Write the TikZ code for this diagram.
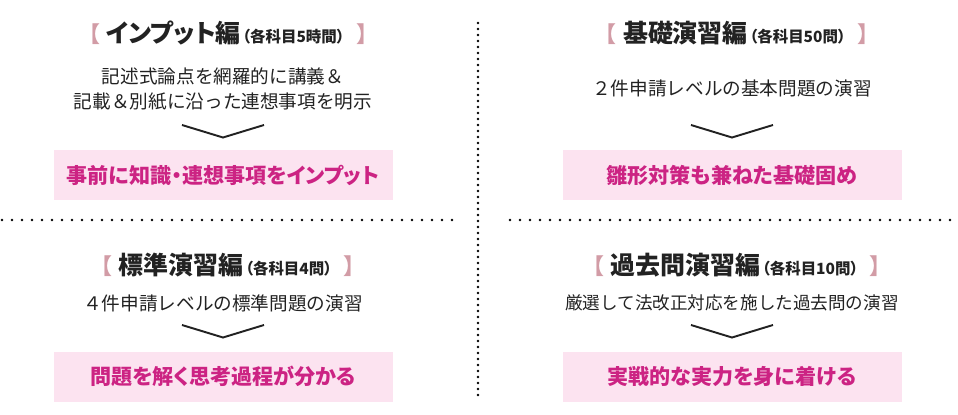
\documentclass[tikz,border=0pt]{standalone}
\usepackage{fontspec}
\setmainfont{Noto Sans CJK JP}
\newfontfamily\jppalt[RawFeature=+palt]{Noto Sans CJK JP}
\usepackage{tikz}

\definecolor{bracketpink}{HTML}{D29CA6}
\definecolor{boxpink}{HTML}{FCE3F0}
\definecolor{textmagenta}{HTML}{CC2383}
\definecolor{inkgray}{HTML}{222222}

\newcommand{\hbr}[2]{{\fontsize{12.5}{13}\selectfont\color{bracketpink}【}\hspace{3.5pt}{\jppalt #1}\hspace{1pt}{\jppalt\fontsize{8.8}{10}\selectfont（各科目#2）}\hspace{7pt}{\jppalt\fontsize{12.5}{13}\selectfont\color{bracketpink}】}}

\begin{document}
\begin{tikzpicture}[
	heading/.style={font=\bfseries\fontsize{14.2}{16}\selectfont, text=inkgray, inner sep=0pt},
	body/.style={font=\fontsize{10.6}{14.2}\selectfont, text=inkgray, align=center, inner sep=0pt},
	result/.style={fill=boxpink, minimum width=6.78cm, minimum height=1cm, inner sep=0pt,
		font=\jppalt\bfseries\fontsize{12}{14}\selectfont, text=textmagenta},
	chevron/.style={draw=inkgray, line width=1.1pt},
	dots/.style={draw=black, line width=1.6pt, line cap=round, dash pattern=on 0pt off #1},
	]
	\useasboundingbox (0,0) rectangle (19.16,8.28);
	% dotted separators
	\draw[dots=0.12cm] (9.56,7.82) -- (9.56,0.34);
	\draw[dots=0.2cm] (0.04,3.88) -- (9.04,3.88);
	\draw[dots=0.2cm] (10.2,3.88) -- (19.1,3.88);
	% upper left
	\node[heading] (inputtitle) at (4.46,7.62) {\hbr{インプット編}{5時間}};
	\node[body] (inputtext) at (4.46,6.49) {記述式論点を網羅的に講義＆\\記載＆別紙に沿った連想事項を明示};
	\node[result] (inputres) at (4.46,4.78) {事前に知識・連想事項をインプット};
	% upper right
	\node[heading] (basictitle) at (14.64,7.62) {\hbr{基礎演習編}{50問}};
	\node[body] (basictext) at (14.64,6.52) {２件申請レベルの基本問題の演習};
	\node[result] (basicres) at (14.64,4.78) {雛形対策も兼ねた基礎固め};
	% lower left
	\node[heading] (stdtitle) at (4.46,2.97) {\hbr{標準演習編}{4問}};
	\node[body] (stdtext) at (4.46,2.22) {４件申請レベルの標準問題の演習};
	\node[result] (stdres) at (4.46,0.75) {問題を解く思考過程が分かる};
	% lower right
	\node[heading] (pasttitle) at (14.64,2.97) {\hbr{過去問演習編}{10問}};
	\node[body, font=\fontsize{10}{12}\selectfont] (pasttext) at (14.64,2.22) {厳選して法改正対応を施した過去問の演習};
	\node[result] (pastres) at (14.64,0.75) {実戦的な実力を身に着ける};
	% chevrons
	\foreach \cx/\cy in {4.46/5.78, 14.64/5.78, 4.46/1.78, 14.64/1.78}
		\draw[chevron] (\cx-0.82,\cy) -- (\cx,\cy-0.25) -- (\cx+0.82,\cy);
\end{tikzpicture}
\end{document}
